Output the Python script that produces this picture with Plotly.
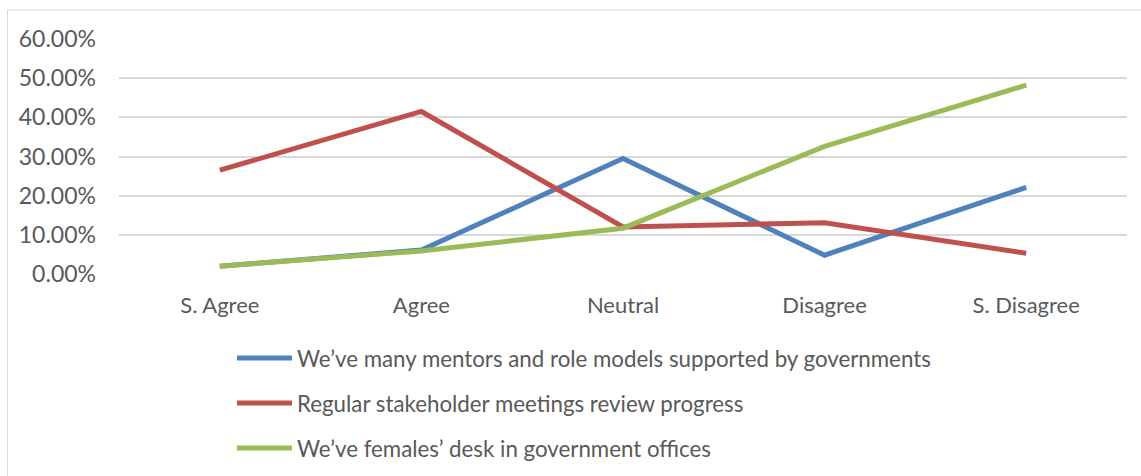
import plotly.graph_objects as go

categories = ["S. Agree", "Agree", "Neutral", "Disagree", "S. Disagree"]
mentors = [0.020, 0.061, 0.295, 0.048, 0.221]
meetings = [0.265, 0.415, 0.120, 0.131, 0.053]
desk = [0.020, 0.059, 0.117, 0.326, 0.482]
names = [
    "We\u2019ve many mentors and role models supported by governments",
    "Regular stakeholder meetings review progress",
    "We\u2019ve females\u2019 desk in government offices",
]
colors = ["#4f81bd", "#c0504d", "#9bbb59"]
y_ticks = [0, 0.1, 0.2, 0.3, 0.4, 0.5, 0.6]
y_tick_text = ["0.00%", "10.00%", "20.00%", "30.00%", "40.00%", "50.00%", "60.00%"]

FONT = "Lato"
FS = 22
W, H = 1141, 476
L, R, T, B = 119, 14, 38.5, 202

fig = go.Figure()
for i, (vals, name, col) in enumerate(zip([mentors, meetings, desk], names, colors)):
    fig.add_trace(go.Scatter(
        x=categories, y=vals, mode="lines", name=name,
        line=dict(color=col, width=5, shape="linear"),
        legendgroup=f"g{i}",
    ))

pw = W - L - R
ph = H - T - B
def px2x(px):
    return (px - L) / pw
def py2y(py):
    return (H - B - py) / ph

fig.add_shape(type="rect", xref="paper", yref="paper",
              x0=px2x(7.5), x1=px2x(1150), y0=py2y(9.5), y1=py2y(490),
              line=dict(color="#d9d9d9", width=1), fillcolor="rgba(0,0,0,0)", layer="below")

fig.update_layout(
    width=W, height=H,
    margin=dict(l=L, r=R, t=T, b=B, pad=0, autoexpand=False),
    paper_bgcolor="white", plot_bgcolor="white",
    font=dict(family=FONT, size=FS, color="#595959"),
    showlegend=True,
    legend=dict(
        xref="container", yref="container",
        x=232 / W, y=(H - 337) / H, xanchor="left", yanchor="top",
        orientation="v", itemwidth=55, tracegroupgap=13,
        font=dict(family=FONT, size=22.3, color="#595959"),
        bgcolor="rgba(0,0,0,0)",
    ),
    xaxis=dict(
        type="category", range=[-0.5, 4.5], showgrid=False, zeroline=False,
        showline=False, ticks="", ticklabelstandoff=16,
        tickfont=dict(family=FONT, size=FS, color="#595959"),
    ),
    yaxis=dict(
        range=[0, 0.6], tickvals=y_ticks, ticktext=y_tick_text,
        showgrid=True, gridcolor="#d9d9d9", gridwidth=1.5,
        zeroline=False, showline=False, ticks="", ticklabelstandoff=22,
        tickfont=dict(family=FONT, size=23, color="#595959"),
    ),
)

fig.write_html("out.html")
